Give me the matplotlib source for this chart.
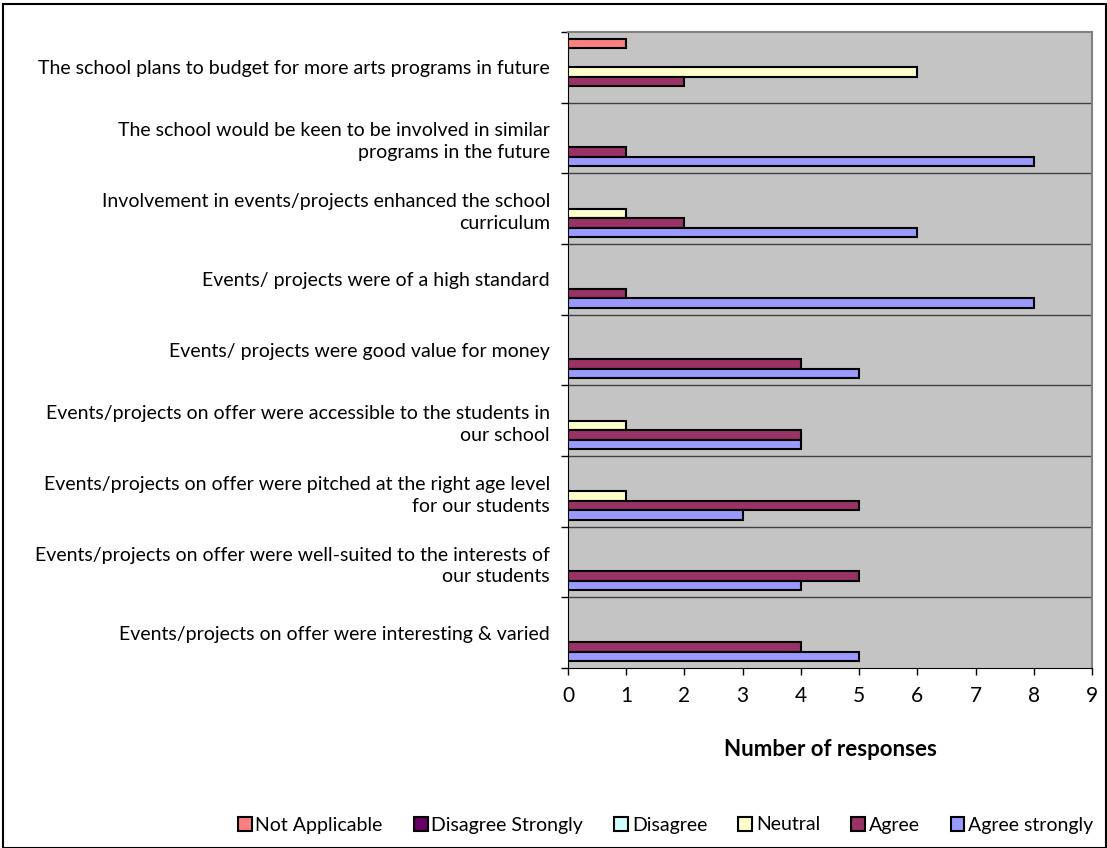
import matplotlib
matplotlib.use("Agg")
import matplotlib.pyplot as plt
import numpy as np
from matplotlib.patches import Rectangle

plt.rcParams['font.family'] = ['Lato', 'DejaVu Sans']

categories = [
    "The school plans to budget for more arts programs in future",
    "The school would be keen to be involved in similar\nprograms in the future",
    "Involvement in events/projects enhanced the school\ncurriculum",
    "Events/ projects were of a high standard",
    "Events/ projects were good value for money",
    "Events/projects on offer were accessible to the students in\nour school",
    "Events/projects on offer were pitched at the right age level\nfor our students",
    "Events/projects on offer were well-suited to the interests of\nour students",
    "Events/projects on offer were interesting & varied",
]

series_names = ["Not Applicable", "Disagree Strongly", "Disagree", "Neutral", "Agree", "Agree strongly"]
not_applicable    = [1, 0, 0, 0, 0, 0, 0, 0, 0]
disagree_strongly = [0, 0, 0, 0, 0, 0, 0, 0, 0]
disagree          = [0, 0, 0, 0, 0, 0, 0, 0, 0]
neutral           = [6, 0, 1, 0, 0, 1, 1, 0, 0]
agree             = [2, 1, 2, 1, 4, 4, 5, 5, 4]
agree_strongly    = [0, 8, 6, 8, 5, 4, 3, 4, 5]
series_values = [not_applicable, disagree_strongly, disagree, neutral, agree, agree_strongly]
colors = ["#FF8080", "#660066", "#CCFFFF", "#FFFFCC", "#993366", "#9999FF"]
xticks = list(range(0, 10))

fig = plt.figure(figsize=(11.07, 8.48), dpi=100)
ax = fig.add_axes([568/1107, 1-668/848, (1092-568)/1107, (668-32)/848])
ax.set_facecolor("#C4C4C4")

n = len(series_names)
h = 0.134
margin = (1 - n*h) / 2
ypos = np.arange(len(categories))
for i, (name, vals, col) in enumerate(zip(series_names, series_values, colors)):
    vals = np.asarray(vals, dtype=float)
    y = ypos - 0.5 + margin + (i + 0.5) * h
    mask = vals > 0
    ax.barh(y[mask], vals[mask], height=h, color=col, edgecolor="black", linewidth=1.5, zorder=3)

ax.set_xlim(0, 9)
ax.set_ylim(len(categories) - 0.5, -0.5)
ax.set_xticks(xticks)
ax.set_xticklabels([str(t) for t in xticks], fontsize=15)
ax.tick_params(axis='x', direction='out', length=5, width=1, pad=8)

bounds = np.arange(len(categories) + 1) - 0.5
ax.set_yticks(bounds, minor=True)
ax.set_yticks(ypos)
ax.set_yticklabels(categories, fontsize=14, ha='right', linespacing=1.35)
ax.tick_params(axis='y', which='major', length=0, pad=19)
ax.tick_params(axis='y', which='minor', length=5, width=1, direction='out')
for lbl in ax.get_yticklabels():
    lbl.set_x(lbl.get_position()[0])
fig.canvas.draw()
ax.tick_params(axis='y', which='major', pad=13)

for b in bounds[1:-1]:
    ax.axhline(b, color="#404040", linewidth=1, zorder=2)

for s in ['top', 'right']:
    ax.spines[s].set_color("#808080")
    ax.spines[s].set_linewidth(1.5)
ax.spines['left'].set_color("black")
ax.spines['bottom'].set_color("black")

ax.set_xlabel("Number of responses", fontsize=16, fontweight='bold', labelpad=24)

handles = [Rectangle((0, 0), 1, 1, facecolor=c, edgecolor="black", linewidth=1.5) for c in colors]
fig.legend(handles, series_names, loc='center right', bbox_to_anchor=(1.0, 1-825/848),
           ncol=6, frameon=False, fontsize=14, handlelength=0.7, handleheight=0.7,
           handletextpad=0.2, columnspacing=1.6, borderaxespad=0.3)

fig.patches.append(Rectangle((3/1107, 0.0), 1-4/1107, 1-4/848, transform=fig.transFigure,
                             fill=False, edgecolor="black", linewidth=1.5))

fig.savefig("out.png", dpi=100)
